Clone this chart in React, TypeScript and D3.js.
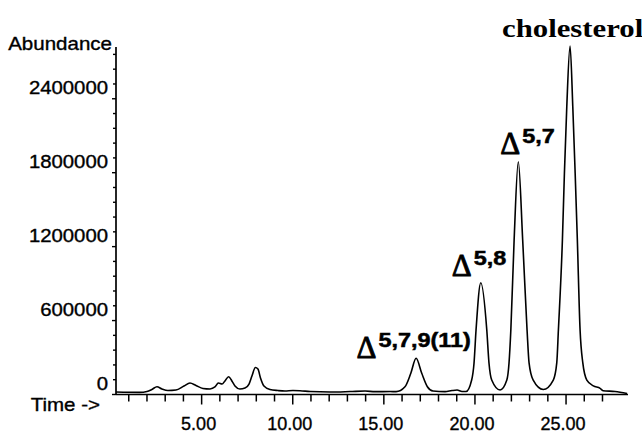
import React, { useRef, useEffect } from 'react';
import * as d3 from 'd3';

// retention time (min) / abundance
const retentionTime = [
  0.30, 1.60, 2.00, 2.27, 2.55, 2.82, 3.15, 3.59, 4.03, 4.36, 4.69, 5.07, 5.46, 5.73, 5.92, 6.12,
  6.28, 6.48, 6.66, 6.83, 7.10, 7.38, 7.60, 7.76, 7.95, 8.09, 8.23, 8.42, 8.75, 9.19, 9.57, 10.01,
  10.40, 10.96, 12.05, 13.15, 13.97, 14.52, 15.34, 15.67, 16.16, 16.48, 16.77, 17.08, 17.39, 17.70,
  18.36, 18.74, 19.02, 19.29, 19.51, 19.82, 19.95, 20.06, 20.32, 20.65, 20.77, 20.92, 21.38, 21.75,
  21.87, 21.97, 22.15, 22.38, 22.62, 22.86, 22.97, 23.19, 23.75, 24.30, 24.49, 24.58, 24.80, 24.91,
  25.04, 25.22, 25.37, 25.50, 25.62, 25.77, 25.92, 26.14, 26.50, 26.87, 27.03, 27.69, 28.35,
];
const abundance = [
  20000, 17000, 24000, 41000, 63000, 45000, 32000, 36000, 69000, 93000, 73000, 49000, 45000, 61000, 93000, 85000,
  110000, 144000, 110000, 69000, 45000, 53000, 85000, 150000, 219000, 207000, 134000, 69000, 41000, 32000, 28000, 32000,
  30000, 24000, 20000, 24000, 28000, 23000, 24000, 23000, 63000, 172000, 294000, 172000, 63000, 28000,
  23000, 32000, 36000, 24000, 24000, 118000, 256000, 523000, 907000, 523000, 256000, 118000, 37000, 118000,
  256000, 523000, 1254000, 1889000, 1254000, 523000, 256000, 118000, 40000, 117000, 256000, 523000, 1254000, 1795000,
  2335000, 2828000, 2335000, 1795000, 1254000, 523000, 256000, 117000, 70000, 50000, 31000, 24000, 8000,
];

const timeDomain = [0.3, 28.4];
const abundanceDomain = [0, 2820000];
const yMajorTicks = [0, 600000, 1200000, 1800000, 2400000];
const yMinorTicks = d3.range(0, 2820000, 120000);
const xMajorTicks = [5, 10, 15, 20, 25];
const xMinorTicks = d3.range(1, 28);

// peak annotations (Δ + superscript)
const deltaSup = ['5,7,9(11)', '5,8', '5,7'];
const deltaPeakTime = [16.77, 20.32, 22.38];
const deltaPeakValue = [294000, 907000, 1889000];
const deltaOffsets = [[-59.5, 0], [-29, -7], [-18, -8]];

const sans = '"Liberation Sans", Arial, sans-serif';
const serif = '"Liberation Serif", "Times New Roman", serif';

export default function App() {
  const svgRef = useRef<SVGSVGElement>(null);
  const W = 642, H = 434;
  const margin = { top: 47, right: 14, bottom: 39.5, left: 116 };

  useEffect(() => {
    const svg = d3.select(svgRef.current);
    svg.selectAll('*').remove();

    const x = d3.scaleLinear().domain(timeDomain).range([margin.left, W - margin.right]);
    const y = d3.scaleLinear().domain(abundanceDomain).range([H - margin.bottom, margin.top]);
    const y0 = y(0);

    svg.append('rect').attr('width', W).attr('height', H).attr('fill', '#fff');

    // 軸線
    svg.append('line')
      .attr('x1', margin.left).attr('x2', margin.left)
      .attr('y1', margin.top).attr('y2', y0)
      .attr('stroke', '#000').attr('stroke-width', 1.7);
    svg.append('line')
      .attr('x1', margin.left).attr('x2', W - margin.right)
      .attr('y1', y0).attr('y2', y0)
      .attr('stroke', '#000').attr('stroke-width', 1.7);

    // y ticks
    svg.append('g').selectAll('line')
      .data(yMinorTicks)
      .enter().append('line')
      .attr('x1', d => margin.left - (yMajorTicks.includes(d) ? 4 : 3))
      .attr('x2', margin.left)
      .attr('y1', d => y(d)).attr('y2', d => y(d))
      .attr('stroke', '#000').attr('stroke-width', 1.4);

    svg.append('g').selectAll('text')
      .data(yMajorTicks)
      .enter().append('text')
      .attr('transform', d => `translate(108, ${y(d) - 5}) scale(1.13, 1)`)
      .attr('text-anchor', 'end')
      .attr('font-family', sans).attr('font-size', 18)
      .attr('stroke', '#000').attr('stroke-width', 0.35)
      .text(d => String(d));

    // x ticks
    svg.append('g').selectAll('line')
      .data(xMinorTicks)
      .enter().append('line')
      .attr('x1', d => x(d)).attr('x2', d => x(d))
      .attr('y1', y0).attr('y2', d => y0 + (xMajorTicks.includes(d) ? 10 : 7))
      .attr('stroke', '#000').attr('stroke-width', 1.5);

    svg.append('g').selectAll('text')
      .data(xMajorTicks)
      .enter().append('text')
      .attr('x', d => x(d) - 3).attr('y', 430)
      .attr('text-anchor', 'middle')
      .attr('font-family', sans).attr('font-size', 18)
      .attr('stroke', '#000').attr('stroke-width', 0.35)
      .text(d => d.toFixed(2));

    // axis titles
    svg.append('text')
      .attr('transform', `translate(112, 50) scale(1.14, 1)`)
      .attr('text-anchor', 'end')
      .attr('font-family', sans).attr('font-size', 18)
      .attr('stroke', '#000').attr('stroke-width', 0.35)
      .text('Abundance');
    svg.append('text')
      .attr('transform', `translate(100, 411) scale(1.14, 1)`)
      .attr('text-anchor', 'end')
      .attr('font-family', sans).attr('font-size', 18)
      .attr('stroke', '#000').attr('stroke-width', 0.35)
      .text('Time ->');

    // trace
    const points = retentionTime.map((t, i) => [t, abundance[i]] as [number, number]);
    const line = d3.line<[number, number]>()
      .x(d => x(d[0]))
      .y(d => y(d[1]))
      .curve(d3.curveMonotoneX);
    svg.append('path')
      .attr('d', line(points))
      .attr('fill', 'none')
      .attr('stroke', '#000')
      .attr('stroke-width', 1.6)
      .attr('stroke-linejoin', 'round');

    // Δ labels
    deltaSup.forEach((sup, i) => {
      const px = x(deltaPeakTime[i]) + deltaOffsets[i][0];
      const py = y(deltaPeakValue[i]) + deltaOffsets[i][1];
      svg.append('text')
        .attr('x', px).attr('y', py)
        .attr('font-family', serif).attr('font-size', 31)
        .attr('stroke', '#000').attr('stroke-width', 0.9)
        .text('Δ');
      svg.append('text')
        .attr('transform', `translate(${px + 22}, ${py - 11}) scale(1.2, 1)`)
        .attr('font-family', sans).attr('font-size', 19.5).attr('font-weight', 'bold')
        .attr('stroke', '#000').attr('stroke-width', 0.5)
        .text(sup);
    });

    // cholesterol
    const ci = d3.maxIndex(abundance);
    svg.append('text')
      .attr('transform', `translate(${x(retentionTime[ci]) - 68}, ${y(abundance[ci]) - 9.5}) scale(1.23, 1)`)
      .attr('font-family', serif).attr('font-size', 25).attr('font-weight', 'bold')
      .text('cholesterol');
  // eslint-disable-next-line react-hooks/exhaustive-deps
  }, []);

  return (
    <svg
      ref={svgRef}
      width={W}
      height={H}
      style={{ position: 'absolute', left: 0, top: 0, display: 'block' }}
    />
  );
}
